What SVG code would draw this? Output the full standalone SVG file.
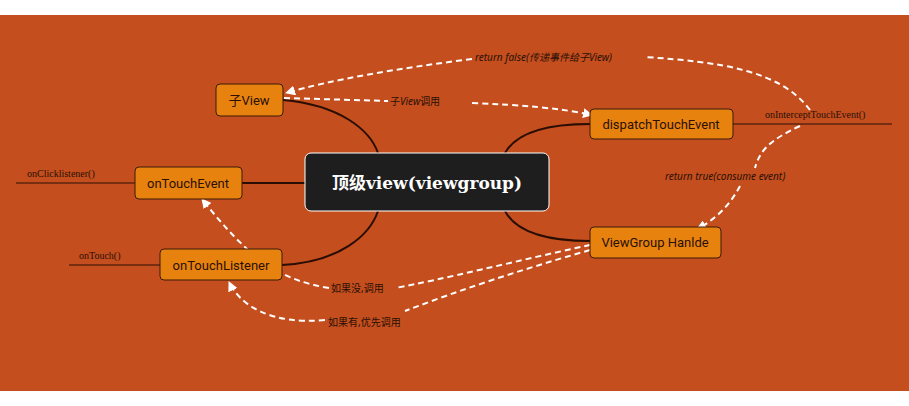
<svg xmlns="http://www.w3.org/2000/svg" width="909" height="406" viewBox="0 0 909 406">
<style>
.n rect{fill:#E8820F;stroke:#3a1a08;stroke-width:1}
.n text{font-family:Roboto,"Noto Sans CJK SC",sans-serif;font-size:13px;fill:#2a1005;text-anchor:middle}
.c{fill:none;stroke:#2a0e04;stroke-width:2}
.t{fill:none;stroke:#2a0e04;stroke-width:1}
.d{fill:none;stroke:#fff;stroke-width:2;stroke-dasharray:6 4}
.lb{font-family:"Noto Sans","Noto Sans CJK SC",sans-serif;font-size:10px;fill:#2a1005}
.it{font-style:italic}
.sm{font-family:"Liberation Serif","DejaVu Serif",serif;font-size:10px;fill:#2a1005}
</style>
<defs>
<marker id="a" viewBox="0 0 10 10" refX="9" refY="5" markerWidth="5" markerHeight="5" orient="auto"><path d="M0,0L10,5L0,10z" fill="#fff"/></marker>
</defs>
<rect x="0" y="0" width="909" height="406" fill="#fff"/>
<rect x="0" y="15" width="909" height="376" fill="#C44E1E"/>
<g id="connectors">
<path class="c" d="M283,100 C340,105 370,130 378,153"/>
<path class="c" d="M242,183 L305,183"/>
<path class="c" d="M282,265 C340,262 370,235 378,211"/>
<path class="c" d="M590,124 C540,124 515,135 505,153"/>
<path class="c" d="M590,241 C540,241 515,230 505,211"/>
<path class="t" d="M16,183 L135,183"/>
<path class="t" d="M69,265 L160,265"/>
<path class="t" d="M733,124 L892,124"/>
<path class="d" d="M810,110 C780,70 720,62 645,57"/>
<path class="d" d="M472,59 C400,68 330,80 286,93" marker-end="url(#a)"/>
<path class="d" d="M284,98 L388,101"/>
<path class="d" d="M472,103 C520,105 560,108 592,115" marker-end="url(#a)"/>
<path class="d" d="M800,126 C770,140 760,150 755,168"/>
<path class="d" d="M740,186 C730,205 715,220 697,229" marker-end="url(#a)"/>
<path class="d" d="M590,245 C520,260 440,280 395,288"/>
<path class="d" d="M329,288 C280,280 250,260 202,199" marker-end="url(#a)"/>
<path class="d" d="M590,250 C520,270 460,290 405,311"/>
<path class="d" d="M325,320 C270,325 240,305 229,282" marker-end="url(#a)"/>
</g>
<text class="lb it" x="475" y="61">return false(传递事件给子View)</text>
<text class="lb" x="390" y="105">子<tspan font-style="italic">View</tspan>调用</text>
<text class="lb it" x="665" y="180">return true(consume event)</text>
<text class="lb" x="331" y="292">如果没,调用</text>
<text class="lb" x="328" y="326">如果有,优先调用</text>
<text class="sm" x="27" y="177">onClicklistener()</text>
<text class="sm" x="79" y="259">onTouch()</text>
<text class="sm" x="765" y="118">onInterceptTouchEvent()</text>
<g id="center"><rect x="305" y="153" width="244" height="58" rx="6" fill="#1E1E1E" stroke="#fff" stroke-width="1"/><text x="427" y="189" font-family="'DejaVu Serif','Noto Sans CJK SC',serif" font-weight="bold" font-size="17" fill="#fff" text-anchor="middle">顶级view(viewgroup)</text></g>
<g id="ziview" class="n"><rect x="216" y="84" width="67" height="32" rx="4"/><text x="249" y="105">子View</text></g>
<g id="dispatch" class="n"><rect x="590" y="109" width="143" height="30" rx="4"/><text x="661" y="129">dispatchTouchEvent</text></g>
<g id="ontouchevent" class="n"><rect x="135" y="167" width="107" height="32" rx="4"/><text x="188" y="188">onTouchEvent</text></g>
<g id="ontouchlistener" class="n"><rect x="160" y="249" width="122" height="31" rx="4"/><text x="221" y="270">onTouchListener</text></g>
<g id="viewgroup" class="n"><rect x="590" y="227" width="131" height="31" rx="4"/><text x="655" y="247">ViewGroup Hanlde</text></g>
</svg>
